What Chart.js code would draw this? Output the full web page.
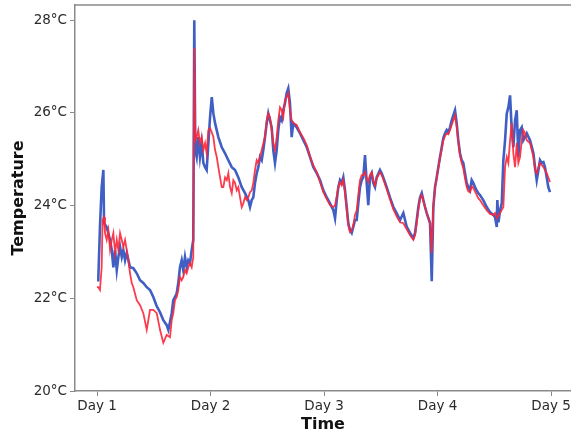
<!DOCTYPE html>
<html>
<head>
<meta charset="utf-8">
<script src="https://cdn.jsdelivr.net/npm/chart.js@4"></script>
<style>
html,body{margin:0;padding:0;background:#fff;}
canvas{display:block;}
</style>
</head>
<body>
<canvas id="c" width="571" height="436"></canvas>
<script>
// Time in days, temperatures in °C
const blueDays = [1.000,1.011,1.026,1.041,1.056,1.062,1.085,1.115,1.130,1.144,1.159,1.174,1.188,1.203,1.218,1.232,1.247,1.262,1.291,1.320,1.350,1.379,1.408,1.438,1.467,1.496,1.526,1.555,1.584,1.614,1.628,1.643,1.658,1.672,1.687,1.702,1.716,1.731,1.746,1.760,1.775,1.790,1.804,1.819,1.834,1.848,1.857,1.866,1.878,1.892,1.907,1.922,1.937,1.952,1.966,1.981,1.996,2.011,2.025,2.040,2.069,2.099,2.128,2.157,2.187,2.216,2.245,2.275,2.304,2.333,2.348,2.363,2.377,2.392,2.407,2.421,2.436,2.451,2.465,2.480,2.495,2.509,2.524,2.539,2.553,2.568,2.583,2.597,2.612,2.627,2.641,2.656,2.671,2.685,2.700,2.715,2.729,2.759,2.789,2.818,2.848,2.877,2.906,2.936,2.965,2.994,3.024,3.053,3.082,3.097,3.112,3.126,3.141,3.156,3.170,3.185,3.200,3.214,3.229,3.244,3.258,3.273,3.288,3.302,3.317,3.332,3.346,3.361,3.376,3.390,3.405,3.420,3.434,3.449,3.464,3.493,3.508,3.522,3.552,3.581,3.611,3.640,3.670,3.699,3.729,3.758,3.787,3.802,3.817,3.831,3.846,3.861,3.875,3.890,3.905,3.934,3.949,3.963,3.978,3.993,4.007,4.022,4.037,4.051,4.066,4.081,4.095,4.110,4.125,4.139,4.154,4.169,4.183,4.198,4.213,4.227,4.242,4.257,4.271,4.286,4.301,4.315,4.330,4.345,4.359,4.374,4.403,4.433,4.463,4.492,4.507,4.522,4.527,4.537,4.551,4.566,4.580,4.595,4.610,4.624,4.639,4.654,4.668,4.683,4.698,4.712,4.727,4.742,4.756,4.786,4.815,4.845,4.859,4.874,4.889,4.903,4.918,4.933,4.947,4.962,4.976,4.991];
const blueTemps = [22.39,22.39,23.54,24.40,24.77,23.62,23.54,23.26,23.04,22.67,23.04,22.61,22.89,23.11,22.89,23.04,22.82,22.98,22.67,22.65,22.54,22.39,22.33,22.24,22.18,22.03,21.83,21.70,21.53,21.42,21.32,21.49,21.68,21.96,22.03,22.11,22.33,22.67,22.82,22.61,22.89,22.67,22.82,22.76,23.04,23.26,28.00,25.20,25.05,25.48,25.05,25.35,24.92,24.83,24.77,25.35,25.91,26.34,25.99,25.78,25.48,25.26,25.13,24.98,24.83,24.77,24.61,24.40,24.27,24.12,23.97,24.12,24.18,24.49,24.70,24.83,25.05,24.98,25.20,25.48,25.78,25.99,25.84,25.69,25.20,24.92,25.20,25.63,25.91,25.84,26.06,26.21,26.43,26.53,26.21,25.48,25.78,25.69,25.56,25.41,25.26,25.05,24.83,24.70,24.55,24.33,24.18,24.05,23.90,23.73,24.12,24.40,24.55,24.49,24.61,24.33,23.97,23.62,23.47,23.41,23.54,23.69,23.69,24.05,24.40,24.55,24.61,25.09,24.49,24.01,24.61,24.70,24.49,24.40,24.61,24.77,24.70,24.61,24.40,24.18,23.97,23.84,23.69,23.84,23.54,23.41,23.30,23.41,23.69,23.97,24.18,24.27,24.12,23.97,23.84,23.62,22.37,23.97,24.40,24.61,24.83,25.05,25.26,25.46,25.56,25.63,25.58,25.69,25.84,25.95,26.06,25.78,25.41,25.13,24.98,24.92,24.70,24.49,24.40,24.33,24.55,24.49,24.40,24.33,24.27,24.23,24.12,23.97,23.86,23.80,23.75,23.54,24.12,23.64,23.90,24.05,24.98,25.41,25.99,26.12,26.38,25.63,25.26,25.84,26.06,25.05,25.63,25.69,25.41,25.56,25.41,25.13,24.83,24.55,24.77,24.98,24.92,24.94,24.83,24.61,24.40,24.29];

const redDays = [1.000,1.011,1.026,1.041,1.049,1.062,1.070,1.085,1.100,1.115,1.130,1.144,1.159,1.174,1.188,1.203,1.218,1.232,1.247,1.262,1.276,1.291,1.306,1.320,1.350,1.379,1.408,1.438,1.467,1.496,1.526,1.555,1.584,1.614,1.643,1.658,1.672,1.687,1.702,1.716,1.731,1.746,1.760,1.775,1.790,1.804,1.819,1.834,1.848,1.857,1.866,1.878,1.892,1.907,1.922,1.937,1.952,1.966,1.981,1.996,2.011,2.025,2.040,2.055,2.069,2.084,2.099,2.113,2.128,2.143,2.157,2.172,2.187,2.201,2.216,2.231,2.245,2.260,2.275,2.289,2.304,2.319,2.333,2.348,2.363,2.377,2.392,2.407,2.421,2.436,2.451,2.480,2.495,2.509,2.524,2.539,2.553,2.568,2.583,2.597,2.612,2.627,2.641,2.656,2.671,2.685,2.700,2.715,2.729,2.759,2.789,2.818,2.848,2.877,2.906,2.936,2.965,2.994,3.024,3.053,3.082,3.097,3.112,3.126,3.141,3.156,3.170,3.185,3.200,3.214,3.229,3.244,3.258,3.273,3.288,3.302,3.317,3.332,3.346,3.361,3.376,3.390,3.405,3.420,3.434,3.449,3.464,3.493,3.508,3.522,3.552,3.581,3.611,3.640,3.670,3.699,3.729,3.758,3.787,3.802,3.817,3.831,3.846,3.861,3.875,3.890,3.905,3.934,3.949,3.963,3.978,3.993,4.007,4.022,4.037,4.051,4.066,4.081,4.095,4.110,4.125,4.139,4.154,4.169,4.183,4.198,4.213,4.227,4.242,4.257,4.271,4.286,4.301,4.315,4.330,4.345,4.359,4.374,4.403,4.433,4.463,4.492,4.507,4.522,4.551,4.580,4.595,4.610,4.624,4.639,4.654,4.668,4.683,4.698,4.712,4.727,4.742,4.756,4.771,4.786,4.815,4.845,4.859,4.874,4.889,4.903,4.933,4.962,4.991];
const redTemps = [22.24,22.24,22.18,22.67,23.69,23.75,23.41,23.26,23.47,23.04,23.26,23.41,22.98,23.26,23.04,23.41,23.26,23.11,23.26,23.04,22.82,22.54,22.33,22.24,21.96,21.85,21.68,21.32,21.75,21.75,21.68,21.32,21.04,21.21,21.16,21.53,21.68,21.96,22.03,22.18,22.46,22.39,22.46,22.61,22.54,22.67,22.76,22.67,22.89,27.40,25.41,25.48,25.63,25.35,25.48,25.20,25.35,25.13,25.63,25.67,25.58,25.48,25.20,25.05,24.83,24.61,24.40,24.40,24.61,24.55,24.70,24.40,24.27,24.55,24.49,24.33,24.40,24.18,23.97,24.05,24.18,24.12,24.18,24.29,24.33,24.49,24.77,24.98,24.92,25.05,25.20,25.48,25.84,25.99,25.91,25.63,25.35,25.20,25.48,25.84,26.12,26.06,25.91,26.28,26.34,26.43,26.06,25.84,25.78,25.74,25.58,25.46,25.30,25.05,24.87,24.72,24.51,24.29,24.14,24.01,23.97,24.01,24.20,24.40,24.51,24.44,24.55,24.29,23.90,23.58,23.43,23.47,23.58,23.80,23.90,24.23,24.55,24.66,24.66,24.72,24.59,24.51,24.66,24.72,24.55,24.44,24.59,24.72,24.66,24.57,24.36,24.14,23.92,23.77,23.64,23.62,23.49,23.36,23.26,23.36,23.64,23.92,24.16,24.23,24.10,23.97,23.84,23.64,22.98,23.97,24.38,24.61,24.81,25.03,25.22,25.41,25.50,25.56,25.54,25.63,25.74,25.84,25.95,25.71,25.37,25.09,24.92,24.81,24.59,24.40,24.31,24.29,24.42,24.38,24.31,24.23,24.16,24.12,24.01,23.90,23.82,23.80,23.84,23.73,23.84,23.97,24.83,25.05,24.92,25.41,25.78,25.13,24.83,25.35,24.92,25.05,25.41,25.63,25.56,25.41,25.35,25.05,24.77,24.70,24.83,24.92,24.83,24.70,24.51];

const xTickDays = [1, 2, 3, 4, 5];
const yTickTemps = [20, 22, 24, 26, 28];

const toPoints = (xs, ys) => xs.map((x, i) => ({x: x, y: ys[i]}));

const framePlugin = {
  id: 'frame',
  afterDraw(chart) {
    const {ctx, chartArea} = chart;
    ctx.save();
    ctx.strokeStyle = '#8a8a8a';
    ctx.lineWidth = 1.5;
    ctx.beginPath();
    ctx.moveTo(chartArea.left - 0.75, chartArea.top);
    ctx.lineTo(chartArea.right + 2, chartArea.top);
    ctx.stroke();
    ctx.restore();
  }
};

const tickFont = {family: '"DejaVu Sans", sans-serif', size: 13.5};
const titleFont = {family: '"DejaVu Sans", sans-serif', size: 16, weight: 'bold'};

new Chart(document.getElementById('c'), {
  type: 'line',
  data: {
    datasets: [
      {label: 'Sensor A', data: toPoints(blueDays, blueTemps), borderColor: '#3f5fc4', borderWidth: 2.6, pointRadius: 0, tension: 0, order: 2},
      {label: 'Sensor B', data: toPoints(redDays, redTemps), borderColor: 'rgba(252,38,56,0.9)', borderWidth: 1.8, pointRadius: 0, tension: 0, order: 1}
    ]
  },
  options: {
    responsive: false,
    animation: false,
    devicePixelRatio: 1,
    layout: {padding: {top: 5, right: 0, left: 0, bottom: 0}},
    plugins: {legend: {display: false}, tooltip: {enabled: false}},
    scales: {
      x: {
        type: 'linear',
        min: 0.806,
        max: 5.176,
        afterBuildTicks: s => { s.ticks = xTickDays.map(v => ({value: v})); },
        afterFit: s => { s.height = 45; s.paddingLeft = 0; s.paddingRight = 0; },
        grid: {drawOnChartArea: false, drawTicks: true, tickLength: 5, color: '#8a8a8a', lineWidth: 1},
        border: {display: true, color: '#8a8a8a', width: 1.5},
        ticks: {color: '#2a2a2a', font: tickFont, padding: 2, maxRotation: 0, callback: v => 'Day ' + v},
        title: {display: true, text: 'Time', color: '#111', font: titleFont, padding: {top: 0, bottom: 2}}
      },
      y: {
        type: 'linear',
        min: 20,
        max: 28.33,
        afterBuildTicks: s => { s.ticks = yTickTemps.map(v => ({value: v})); },
        afterFit: s => { s.width = 75; s.paddingTop = 0; s.paddingBottom = 0; },
        grid: {drawOnChartArea: false, drawTicks: true, tickLength: 5, color: '#8a8a8a', lineWidth: 1},
        border: {display: true, color: '#8a8a8a', width: 1.5},
        ticks: {color: '#2a2a2a', font: tickFont, padding: 3, callback: v => v + '°C'},
        title: {display: true, text: 'Temperature', color: '#111', font: titleFont, padding: {top: 9, bottom: 0}}
      }
    }
  },
  plugins: [framePlugin]
});
</script>
</body>
</html>
